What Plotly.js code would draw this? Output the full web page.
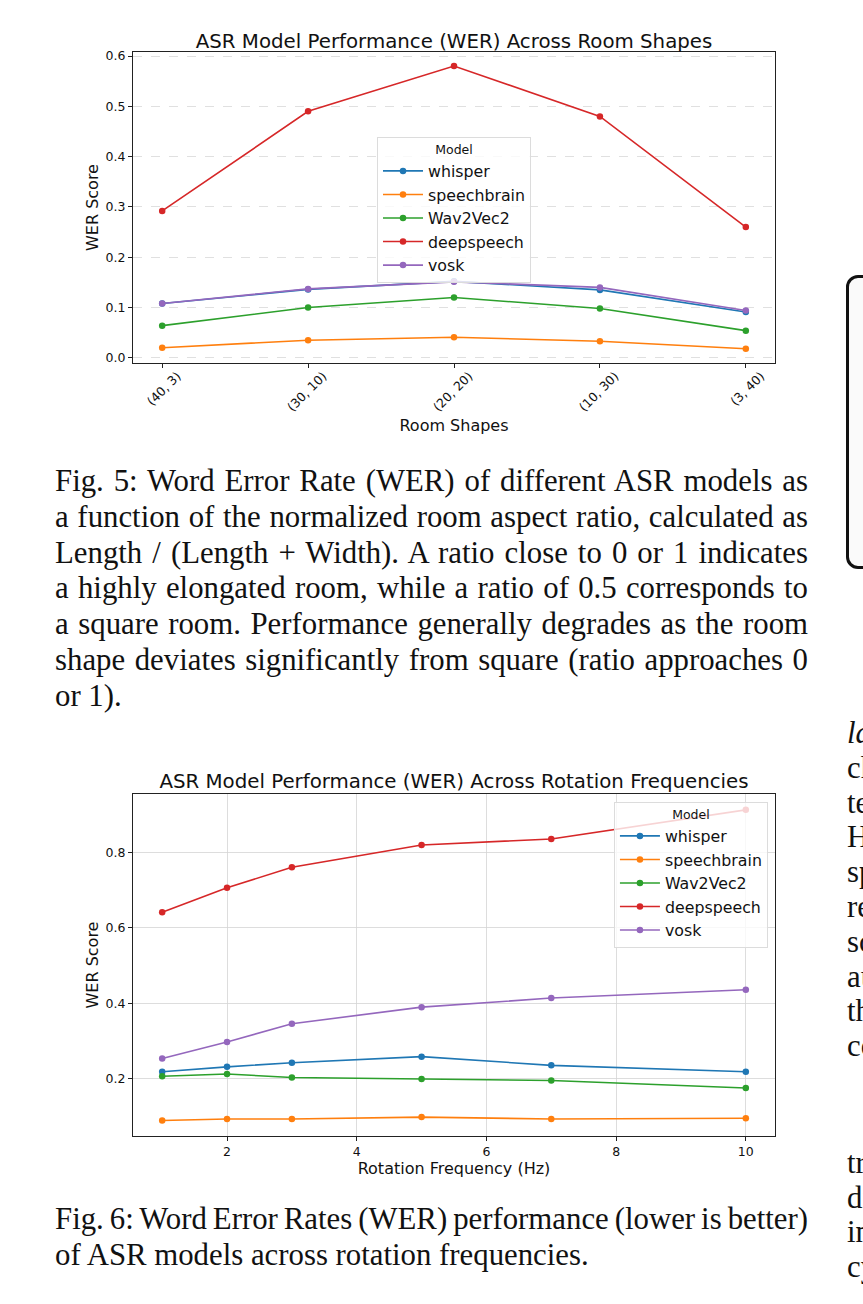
<!DOCTYPE html>
<html>
<head>
<meta charset="utf-8">
<script src="https://cdn.plot.ly/plotly-3.0.1.min.js"></script>
<style>
html,body{margin:0;padding:0;background:#fff;width:863px;height:1304px;overflow:hidden;position:relative;}
.cap{position:absolute;font-family:"Liberation Serif","Times New Roman",serif;font-size:30.8px;line-height:35.8px;color:#111;}
.cap .l{display:block;white-space:nowrap;text-align:justify;text-align-last:justify;word-spacing:-2.5px;}
.cap .last{display:block;white-space:nowrap;text-align:left;}
.side{position:absolute;left:847px;font-family:"Liberation Serif","Times New Roman",serif;font-size:30.8px;color:#111;white-space:nowrap;}
#box{position:absolute;left:846px;top:275px;width:60px;height:288px;border:3px solid #111;border-radius:12px;background:#fafafa;}
#c1,#c2{position:absolute;left:0;}
</style>
</head>
<body>
<div id="c1" style="top:0;width:800px;height:445px;"></div>
<div id="c2" style="top:740px;width:800px;height:440px;"></div>

<div class="cap" style="left:55px;top:464px;width:753px;">
<span class="l">Fig. 5: Word Error Rate (WER) of different ASR models as</span>
<span class="l">a function of the normalized room aspect ratio, calculated as</span>
<span class="l">Length / (Length + Width). A ratio close to 0 or 1 indicates</span>
<span class="l">a highly elongated room, while a ratio of 0.5 corresponds to</span>
<span class="l">a square room. Performance generally degrades as the room</span>
<span class="l">shape deviates significantly from square (ratio approaches 0</span>
<span class="last">or 1).</span>
</div>
<div class="cap" style="left:55px;top:1202px;width:753px;">
<span class="l">Fig. 6: Word Error Rates (WER) performance (lower is better)</span>
<span class="last">of ASR models across rotation frequencies.</span>
</div>

<div id="box"></div>
<div class="side" style="top:716px;line-height:34.8px;"><i>la</i><br>ch<br>te<br>H<br>sp<br>re<br>sc<br>au<br>th<br>co</div>
<div class="side" style="top:1146px;line-height:34.5px;">tr<br>di<br>in<br>cy</div>

<script>
// ---- Chart 1 data: Room shapes ----
const roomShapes = ["(40, 3)", "(30, 10)", "(20, 20)", "(10, 30)", "(3, 40)"];
const room_whisper     = [0.108, 0.136, 0.152, 0.135, 0.091];
const room_speechbrain = [0.020, 0.035, 0.041, 0.033, 0.018];
const room_wav2vec2    = [0.064, 0.100, 0.120, 0.098, 0.054];
const room_deepspeech  = [0.292, 0.490, 0.580, 0.480, 0.260];
const room_vosk        = [0.108, 0.137, 0.151, 0.140, 0.094];

// ---- Chart 2 data: Rotation frequencies ----
const rotFreq = [1, 2, 3, 5, 7, 10];
const rot_whisper     = [0.219, 0.232, 0.243, 0.259, 0.236, 0.219];
const rot_speechbrain = [0.090, 0.094, 0.094, 0.099, 0.094, 0.096];
const rot_wav2vec2    = [0.207, 0.213, 0.204, 0.200, 0.196, 0.176];
const rot_deepspeech  = [0.641, 0.706, 0.760, 0.819, 0.835, 0.912];
const rot_vosk        = [0.254, 0.298, 0.346, 0.390, 0.414, 0.436];

const modelNames = ["whisper", "speechbrain", "Wav2Vec2", "deepspeech", "vosk"];
const colors = ["#1f77b4", "#ff7f0e", "#2ca02c", "#d62728", "#9467bd"];

const FONT = "DejaVu Sans, Verdana, sans-serif";

function mk(x, ys) {
  return ys.map((y, i) => ({
    type: "scatter", mode: "lines+markers", x: x, y: y, name: modelNames[i],
    line: {color: colors[i], width: 1.6}, marker: {color: colors[i], size: 6.5}
  }));
}

const axBase = {
  showline: true, mirror: true, linecolor: "#222", linewidth: 1,
  ticks: "outside", ticklen: 4, tickcolor: "#222", tickwidth: 1,
  tickfont: {family: FONT, size: 12.5, color: "#111"}, zeroline: false
};

const legendBase = {
  bgcolor: "rgba(255,255,255,0.8)", bordercolor: "#dcdcdc", borderwidth: 1,
  font: {family: FONT, size: 15.8, color: "#111"}, itemwidth: 40,
  title: {text: "Model", side: "top center", font: {family: FONT, size: 12.5, color: "#111"}}
};

const x1 = roomShapes.map((_, i) => i);
const layout1 = {
  width: 800, height: 445,
  margin: {l: 133, r: 25, t: 52, b: 82},
  paper_bgcolor: "#fff", plot_bgcolor: "#fff",
  font: {family: FONT, color: "#111"},
  title: {text: "ASR Model Performance (WER) Across Room Shapes", font: {family: FONT, size: 19.8, color: "#111"},
          x: 454/800, xanchor: "center", y: 1 - 41/445, yanchor: "middle", yref: "container"},
  xaxis: Object.assign({}, axBase, {
    range: [-0.2, 4.2], tickmode: "array", tickvals: x1, ticktext: roomShapes,
    tickangle: -45, showgrid: false, ticklabelshift: 15, ticklabelstandoff: -4,
    title: {text: "Room Shapes", font: {family: FONT, size: 16, color: "#111"}, standoff: 6}
  }),
  yaxis: Object.assign({}, axBase, {
    range: [-0.0103, 0.608], tickvals: [0, 0.1, 0.2, 0.3, 0.4, 0.5, 0.6],
    ticktext: ["0.0", "0.1", "0.2", "0.3", "0.4", "0.5", "0.6"],
    showgrid: true, gridcolor: "#d8d8d8", griddash: "dash", gridwidth: 0.8,
    title: {text: "WER Score", font: {family: FONT, size: 16, color: "#111"}, standoff: 3}
  }),
  legend: Object.assign({}, legendBase, {x: 0.5, y: 0.727, xanchor: "center", yanchor: "top"}),
  showlegend: true
};

const layout2 = {
  width: 800, height: 440,
  margin: {l: 133, r: 25, t: 54, b: 44},
  paper_bgcolor: "#fff", plot_bgcolor: "#fff",
  font: {family: FONT, color: "#111"},
  title: {text: "ASR Model Performance (WER) Across Rotation Frequencies", font: {family: FONT, size: 19.8, color: "#111"},
          x: 454/800, xanchor: "center", y: 1 - 41/440, yanchor: "middle", yref: "container"},
  xaxis: Object.assign({}, axBase, {
    range: [0.55, 10.45], tickvals: [2, 4, 6, 8, 10],
    showgrid: true, gridcolor: "#d4d4d4", gridwidth: 0.8,
    title: {text: "Rotation Frequency (Hz)", font: {family: FONT, size: 16, color: "#111"}, standoff: 3}
  }),
  yaxis: Object.assign({}, axBase, {
    range: [0.049, 0.954], tickvals: [0.2, 0.4, 0.6, 0.8], ticktext: ["0.2", "0.4", "0.6", "0.8"],
    showgrid: true, gridcolor: "#d4d4d4", gridwidth: 0.8,
    title: {text: "WER Score", font: {family: FONT, size: 16, color: "#111"}, standoff: 3}
  }),
  legend: Object.assign({}, legendBase, {x: 0.989, y: 0.977, xanchor: "right", yanchor: "top"}),
  showlegend: true
};

Plotly.newPlot("c1", mk(x1, [room_whisper, room_speechbrain, room_wav2vec2, room_deepspeech, room_vosk]), layout1, {displayModeBar: false, staticPlot: true});
Plotly.newPlot("c2", mk(rotFreq, [rot_whisper, rot_speechbrain, rot_wav2vec2, rot_deepspeech, rot_vosk]), layout2, {displayModeBar: false, staticPlot: true});
</script>
</body>
</html>
